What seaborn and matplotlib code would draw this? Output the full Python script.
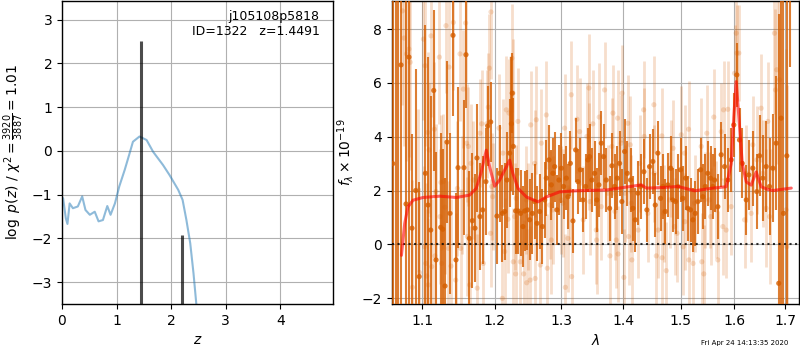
import numpy as np
import pandas as pd
import matplotlib
matplotlib.use("Agg")
import matplotlib.pyplot as plt
from matplotlib.ticker import FixedLocator, NullLocator, FixedFormatter
import seaborn as sns

# ---------------- data: redshift probability ----------------
pz_z = [0.02, 0.07, 0.10, 0.14, 0.20, 0.29, 0.37, 0.43, 0.51, 0.60, 0.67, 0.75,
        0.83, 0.89, 0.97, 1.05, 1.15, 1.24, 1.30, 1.42, 1.55, 1.67, 1.85, 1.97,
        2.13, 2.21, 2.28, 2.35, 2.41, 2.46, 2.50, 2.60]
pz_logp = [-1.08, -1.54, -1.67, -1.20, -1.31, -1.27, -1.04, -1.35, -1.46, -1.39,
           -1.61, -1.58, -1.26, -1.46, -1.20, -0.81, -0.43, -0.05, 0.21, 0.33,
           0.25, -0.02, -0.32, -0.55, -0.89, -1.12, -1.58, -2.11, -2.80, -3.48,
           -4.00, -6.00]
peak_z = [1.4491, 2.20]
peak_h = [2.52, -1.92]
z_ticks = [0, 1, 2, 3, 4]
logp_ticks = [-3, -2, -1, 0, 1, 2, 3]

# ---------------- data: spectrum, orientation 1 (dark) ----------------
dark_wave = [1.0618, 1.0656, 1.0688, 1.0724, 1.0788, 1.0827, 1.0866, 1.0914, 1.0960,
             1.1042, 1.1077, 1.1113, 1.1153, 1.1184, 1.1247, 1.1274, 1.1305, 1.1332,
             1.1373, 1.1414, 1.1455, 1.1483, 1.1565, 1.1593, 1.1640, 1.1682, 1.1719,
             1.1747, 1.1789, 1.1827, 1.1874, 1.1899, 1.1942, 1.2032, 1.2071, 1.2110,
             1.2144, 1.2177, 1.2217, 1.2242, 1.2255, 1.2270, 1.2305, 1.2339, 1.2379,
             1.2413, 1.2439, 1.2479, 1.2513, 1.2554, 1.2589, 1.2624, 1.2665, 1.2706,
             1.2741, 1.2767, 1.2807, 1.2843, 1.2868, 1.2895, 1.2930, 1.2961, 1.2998,
             1.3034, 1.3077, 1.3102, 1.3140, 1.3181, 1.3224, 1.3260, 1.3298, 1.3340,
             1.3383, 1.3420, 1.3447, 1.3484, 1.3528, 1.3565, 1.3598, 1.3637, 1.3675,
             1.3719, 1.3774, 1.3812, 1.3857, 1.3902, 1.3940, 1.3978, 1.4024, 1.4069,
             1.4125, 1.4164, 1.4205, 1.4250, 1.4296, 1.4353, 1.4404, 1.4451, 1.4508,
             1.4550, 1.4595, 1.4643, 1.4683, 1.4725, 1.4771, 1.4819, 1.4860, 1.4908,
             1.4949, 1.4998, 1.5040, 1.5089, 1.5130, 1.5179, 1.5221, 1.5265, 1.5313,
             1.5363, 1.5405, 1.5449, 1.5497, 1.5547, 1.5590, 1.5622, 1.5684, 1.5748,
             1.5811, 1.5874, 1.5938, 1.5988, 1.6046, 1.6098, 1.6151, 1.6229, 1.6279,
             1.6357, 1.6436, 1.6489, 1.6554, 1.6622, 1.6688, 1.6754, 1.6822, 1.6874,
             1.6922, 1.6970, 1.7038, 1.7108]
dark_flux = [3.00, -3.00, 10.0, 6.67, 1.50, 6.96, 0.60, 2.00, -1.20,
             2.64, 1.46, 0.53, 5.72, -0.58, 0.63, 0.56, -1.55, 3.80,
             1.15, 7.77, -0.58, 2.85, 2.85, 7.05, 0.22, 0.88, 0.60,
             3.21, 1.03, 1.28, 2.33, 4.40, 4.55, 1.05, 2.64, 1.15,
             1.22, 2.39, 3.39, 4.48, 5.62, 3.64, 1.24, 1.24, 1.15,
             0.66, 1.24, 1.28, 0.91, 1.15, 1.59, 0.78, 1.22, 0.66,
             1.65, 2.46, 3.14, 2.21, 2.64, 2.89, 1.28, 2.39, 2.83,
             2.15, 2.46, 1.77, 3.01, 0.87, 3.51, 2.33, 2.77, 1.65,
             2.15, 3.14, 3.26, 2.39, 2.64, 1.65, 2.21, 3.76, 3.26,
             2.39, 1.34, 2.92, 2.15, 2.46, 3.01, 1.59, 3.45, 2.64,
             2.39, 1.34, 0.91, 1.90, 2.15, 2.70, 1.28, 2.89, 3.08,
             1.46, 3.39, 1.71, 2.15, 1.22, 2.21, 2.83, 1.65, 1.59,
             2.15, 2.77, 1.71, 2.46, 1.34, 1.28, 0.91, 1.15, 1.59,
             2.77, 1.77, 2.15, 2.64, 2.46, 2.15, 2.39, 1.40, 3.33,
             2.89, 2.39, 3.14, 4.44, 6.30, 3.88, 3.01, 1.65, 2.58,
             2.83, 1.96, 3.29, 2.46, 2.89, 2.15, 2.83, 3.76, -1.45,
             4.69, 1.15, 3.29, 10.0]
dark_err = [20.0, 18.0, 15.0, 15.0, 12.0, 12.0, 3.5, 4.5, 3.5,
            5.5, 5.5, 5.0, 3.0, 4.0, 3.5, 3.0, 4.0, 3.0,
            3.0, 3.0, 2.5, 3.0, 2.5, 2.0, 2.5, 2.5, 2.0,
            2.0, 2.0, 2.0, 2.0, 1.5, 1.5, 1.8, 1.8, 1.8,
            1.8, 1.8, 2.0, 2.5, 1.5, 1.8, 1.6, 1.6, 1.6,
            1.5, 1.5, 1.5, 1.5, 1.5, 1.4, 1.4, 1.4, 1.4,
            1.4, 1.4, 1.3, 1.3, 1.3, 1.3, 1.3, 1.3, 1.3,
            1.2, 1.2, 1.2, 1.2, 1.2, 1.2, 1.2, 1.2, 1.2,
            1.2, 1.2, 1.2, 1.2, 1.2, 1.2, 1.2, 1.2, 1.2,
            1.2, 1.2, 1.2, 1.2, 1.2, 1.2, 1.2, 1.2, 1.2,
            1.2, 1.2, 1.2, 1.2, 1.2, 1.2, 1.2, 1.2, 1.2,
            1.2, 1.2, 1.2, 1.2, 1.2, 1.2, 1.2, 1.2, 1.2,
            1.2, 1.2, 1.2, 1.2, 1.2, 1.2, 1.2, 1.2, 1.2,
            1.2, 1.2, 1.2, 1.2, 1.2, 1.2, 1.2, 1.2, 1.2,
            1.2, 1.2, 1.2, 1.2, 1.2, 1.2, 1.3, 1.3, 1.3,
            1.4, 1.4, 1.5, 1.6, 1.7, 1.8, 2.0, 2.5, 10.0,
            8.0, 12.0, 15.0, 3.4]

# ---------------- data: spectrum, orientation 2 (light) ----------------
light_wave = [1.0742, 1.0763, 1.0794, 1.0827, 1.0843, 1.0871, 1.0950, 1.0963, 1.1016,
              1.1030, 1.1038, 1.1047, 1.1060, 1.1073, 1.1080, 1.1091, 1.1117, 1.1126,
              1.1162, 1.1170, 1.1184, 1.1229, 1.1237, 1.1250, 1.1260, 1.1283, 1.1305,
              1.1318, 1.1351, 1.1359, 1.1387, 1.1419, 1.1451, 1.1474, 1.1510, 1.1519,
              1.1533, 1.1556, 1.1588, 1.1602, 1.1612, 1.1626, 1.1644, 1.1662, 1.1696,
              1.1742, 1.1751, 1.1789, 1.1813, 1.1837, 1.1884, 1.1908, 1.1923, 1.1940,
              1.1946, 1.1956, 1.1970, 1.2061, 1.2110, 1.2119, 1.2144, 1.2168, 1.2192,
              1.2207, 1.2250, 1.2265, 1.2270, 1.2290, 1.2305, 1.2312, 1.2339, 1.2374,
              1.2424, 1.2464, 1.2469, 1.2488, 1.2521, 1.2530, 1.2589, 1.2597, 1.2614,
              1.2675, 1.2690, 1.2767, 1.2782, 1.2817, 1.2843, 1.2868, 1.2998, 1.3023,
              1.3050, 1.3061, 1.3102, 1.3129, 1.3155, 1.3160, 1.3244, 1.3287, 1.3345,
              1.3404, 1.3436, 1.3440, 1.3452, 1.3500, 1.3555, 1.3560, 1.3603, 1.3637,
              1.3691, 1.3746, 1.3779, 1.3812, 1.3829, 1.3862, 1.3885, 1.3907, 1.3915,
              1.3968, 1.3983, 1.4012, 1.4029, 1.4080, 1.4091, 1.4120, 1.4137, 1.4147,
              1.4255, 1.4279, 1.4348, 1.4358, 1.4421, 1.4526, 1.4531, 1.4568, 1.4600,
              1.4665, 1.4670, 1.4701, 1.4743, 1.4801, 1.4830, 1.4865, 1.4890, 1.4936,
              1.5011, 1.5045, 1.5070, 1.5075, 1.5143, 1.5148, 1.5226, 1.5253, 1.5375,
              1.5385, 1.5422, 1.5436, 1.5478, 1.5529, 1.5550, 1.5609, 1.5654, 1.5684,
              1.5748, 1.5779, 1.5792, 1.5843, 1.5874, 1.5938, 1.6002, 1.6034, 1.6046,
              1.6085, 1.6195, 1.6229, 1.6325, 1.6357, 1.6436, 1.6522, 1.6554, 1.6622,
              1.6655, 1.6688, 1.6788, 1.6808, 1.6835, 1.6889, 1.7023, 1.7036]
light_flux = [8.68, 7.67, 7.08, 7.26, 6.77, -1.60, 2.02, -1.05, 7.63,
              -0.09, 6.64, -0.71, -1.18, 4.16, -1.51, 3.51, 7.75, -0.83,
              4.28, -0.43, 1.96, 6.96, 1.03, 2.30, -0.71, 2.33, 1.38,
              8.13, -0.15, 6.59, -0.81, 8.25, -1.33, 2.08, 7.08, -0.15,
              1.84, 5.77, 8.23, 3.76, 0.29, 3.64, -1.51, 3.01, 2.39,
              2.02, -1.63, 4.13, 4.48, -0.71, 4.48, 5.10, 6.55, 0.41,
              8.64, 2.15, 1.77, 4.32, -2.01, 3.39, -0.27, 5.00, 0.93,
              4.88, 6.92, 5.62, -0.65, 1.03, -1.10, 1.71, 4.57, -0.65,
              -1.10, 1.65, -1.43, 1.03, -1.33, 4.44, 3.01, -1.27, 4.63,
              -0.77, 3.76, 4.81, -0.89, 1.46, 0.16, 1.28, 1.65, 1.53,
              4.32, -1.60, 0.22, 2.02, 5.56, -1.20, 4.65, 4.19, 0.91,
              4.01, 5.81, 3.26, 1.59, 4.48, 0.53, 0.16, 4.73, 1.40,
              5.74, 1.90, -0.43, 3.64, 4.88, 1.22, 0.16, 4.69, -0.36,
              3.76, 5.62, -1.23, 1.90, 4.50, 0.29, 3.70, 1.53, -0.58,
              0.53, 3.01, 5.00, 4.01, 1.15, 5.19, 2.64, -0.43, 0.53,
              4.03, -0.50, 1.15, -0.98, 1.65, 2.83, 3.57, 0.66, 0.41,
              4.07, -0.09, 3.39, 0.84, 4.28, -0.58, -0.71, 1.53, 3.64,
              -0.65, -1.10, 1.65, 4.13, 1.65, 1.03, 4.73, 1.28, -0.58,
              4.19, 0.66, 5.00, 0.53, 5.02, 1.40, 6.36, 7.85, 7.11,
              7.11, 0.91, 2.64, 1.15, 3.70, 3.14, 5.06, 2.64, 1.34,
              4.57, 1.03, 7.85, 5.74, 6.49, 6.12, 1.28, -0.09]
light_err = [3.5, 4.0, 4.0, 4.0, 4.0, 4.0, 3.0, 3.0, 3.0,
             3.0, 3.0, 3.0, 2.5, 3.0, 2.5, 2.5, 3.0, 2.5,
             2.5, 2.5, 2.5, 2.5, 2.5, 2.5, 2.5, 2.5, 2.5,
             2.5, 2.5, 2.5, 2.5, 2.5, 2.5, 2.5, 2.5, 2.2,
             2.2, 2.2, 2.2, 2.2, 2.2, 2.2, 2.2, 2.2, 2.2,
             2.0, 2.0, 2.0, 2.0, 2.0, 2.0, 2.0, 2.0, 2.0,
             2.5, 2.0, 2.0, 2.0, 2.0, 2.0, 2.0, 2.0, 2.0,
             2.0, 2.0, 2.0, 2.0, 2.0, 2.0, 2.0, 2.0, 2.0,
             2.0, 2.0, 2.0, 2.0, 2.0, 2.0, 2.0, 2.0, 2.0,
             2.0, 2.0, 2.0, 2.0, 2.0, 2.0, 2.0, 2.0, 2.0,
             2.0, 2.0, 2.0, 2.0, 2.0, 2.0, 2.0, 2.0, 2.0,
             2.0, 2.0, 2.0, 2.0, 2.0, 2.0, 2.0, 2.0, 2.0,
             1.8, 1.8, 1.8, 1.8, 1.8, 1.8, 1.8, 1.8, 1.8,
             1.8, 1.8, 1.8, 1.8, 1.8, 1.8, 1.8, 1.8, 1.8,
             1.8, 1.8, 1.8, 1.8, 1.8, 1.8, 1.8, 1.8, 1.8,
             1.8, 1.8, 1.8, 1.8, 1.8, 1.8, 1.8, 1.8, 1.8,
             1.8, 1.8, 1.8, 1.8, 1.8, 1.8, 1.8, 1.8, 1.8,
             1.8, 1.8, 1.8, 1.8, 1.8, 1.8, 1.8, 1.8, 1.8,
             1.8, 1.8, 1.8, 1.8, 1.8, 1.8, 1.8, 1.8, 1.8,
             1.8, 1.8, 1.8, 1.8, 1.8, 2.0, 2.0, 2.0, 2.2,
             2.2, 2.5, 3.0, 3.0, 3.5, 4.0, 6.0, 6.0]

# ---------------- data: best-fit model ----------------
model_wave = [1.0729, 1.0771, 1.0813, 1.0879, 1.1010, 1.1233, 1.1461, 1.1644, 1.1737,
              1.1808, 1.1879, 1.1927, 1.1999, 1.2071, 1.2168, 1.2217, 1.2265, 1.2340,
              1.2465, 1.2641, 1.2767, 1.2972, 1.3234, 1.3721, 1.3999, 1.4310, 1.4396,
              1.4686, 1.4953, 1.5255, 1.5594, 1.5843, 1.5938, 1.5988, 1.6034, 1.6085,
              1.6151, 1.6229, 1.6325, 1.6423, 1.6522, 1.6654, 1.6758, 1.7130]
model_flux = [-0.41, 0.77, 1.39, 1.64, 1.74, 1.79, 1.74, 1.83, 2.08,
              2.69, 3.50, 2.88, 2.16, 2.39, 2.88, 3.13, 2.63, 2.08,
              1.76, 1.58, 1.76, 1.95, 1.99, 2.02, 2.11, 2.21, 2.09,
              2.11, 2.15, 1.99, 2.09, 2.14, 3.00, 4.74, 6.05, 4.74,
              3.00, 2.32, 2.20, 2.69, 2.14, 2.04, 2.00, 2.09]

wave_ticks = [1.1, 1.2, 1.3, 1.4, 1.5, 1.6, 1.7]
flux_ticks = [-2, 0, 2, 4, 6, 8]

title_text = "j105108p5818\nID=1322   z=1.4491"
date_text = "Fri Apr 24 14:13:35 2020"

# ---------------- style ----------------
sns.set_style("ticks", {"axes.edgecolor": "black", "text.color": "black",
                        "xtick.color": "black", "ytick.color": "black",
                        "axes.labelcolor": "black"})
plt.rcParams["font.family"] = ["DejaVu Sans"]
plt.rcParams["font.size"] = 10
plt.rcParams["axes.linewidth"] = 1.0

VERM = (0.8353, 0.3686, 0.0)

fig = plt.figure(figsize=(8, 3.5), dpi=100)
ax1 = fig.add_axes([0.0775, 0.1314, 0.339, 0.866])
ax2 = fig.add_axes([0.4896, 0.1314, 0.5095, 0.866])

# ---------------- left: p(z) ----------------
ax1.set_ylim(-3.5, 3.43)
ax1.set_xlim(0, 4.97)
sns.lineplot(x=pz_z, y=pz_logp, ax=ax1, color="#1f77b4", alpha=0.5, lw=1.5,
             estimator=None, sort=False)
ax1.vlines(peak_z, ymin=ax1.get_ylim()[0] - 1, ymax=peak_h, color="k",
           alpha=0.7, lw=2.2, zorder=4)
ax1.set_ylim(-3.5, 3.43)
ax1.set_xlim(0, 4.97)
ax1.xaxis.set_major_locator(FixedLocator(z_ticks))
ax1.yaxis.set_major_locator(FixedLocator(logp_ticks))
ax1.grid(True, color="#b0b0b0", lw=0.8)
ax1.set_xlabel(r"$z$")
ax1.set_ylabel(r"$\log\ p(z)$ / $\chi^2=\frac{3920}{3887}=1.01$")
ax1.text(0.95, 0.97, title_text, ha="right", va="top", transform=ax1.transAxes,
         fontsize=9)

# ---------------- right: spectrum ----------------
ax2.errorbar(light_wave, light_flux, yerr=light_err, fmt="none", ecolor=VERM,
             alpha=0.2, elinewidth=2.0, zorder=2)
sns.scatterplot(x=light_wave, y=light_flux, ax=ax2, color=VERM, alpha=0.2,
                s=14, edgecolor="none", zorder=2.1)
ax2.errorbar(dark_wave, dark_flux, yerr=dark_err, fmt="none", ecolor=VERM,
             alpha=0.8, elinewidth=1.5, zorder=3)
sns.scatterplot(x=dark_wave, y=dark_flux, ax=ax2, color=VERM, alpha=0.8,
                s=14, edgecolor="none", zorder=3.1)
ax2.axhline(0, color="k", ls=":", lw=1.5, alpha=0.8, zorder=5)
sns.lineplot(x=model_wave, y=model_flux, ax=ax2, color="r", alpha=0.6, lw=2.2,
             estimator=None, sort=False, zorder=6)

ax2.set_xscale("log")
ax2.set_xlim(1.0604, 1.7295)
ax2.set_ylim(-2.22, 9.05)
ax2.xaxis.set_major_locator(FixedLocator(wave_ticks))
ax2.xaxis.set_major_formatter(FixedFormatter([f"{t:.1f}" for t in wave_ticks]))
ax2.xaxis.set_minor_locator(NullLocator())
ax2.yaxis.set_major_locator(FixedLocator(flux_ticks))
ax2.grid(True, color="#b0b0b0", lw=0.8)
ax2.set_xlabel(r"$\lambda$")
ax2.set_ylabel(r"$f_\lambda\times10^{-19}$")

fig.text(0.985, 0.012, date_text, ha="right", va="bottom", fontsize=5)

fig.savefig("out.png", dpi=100)
